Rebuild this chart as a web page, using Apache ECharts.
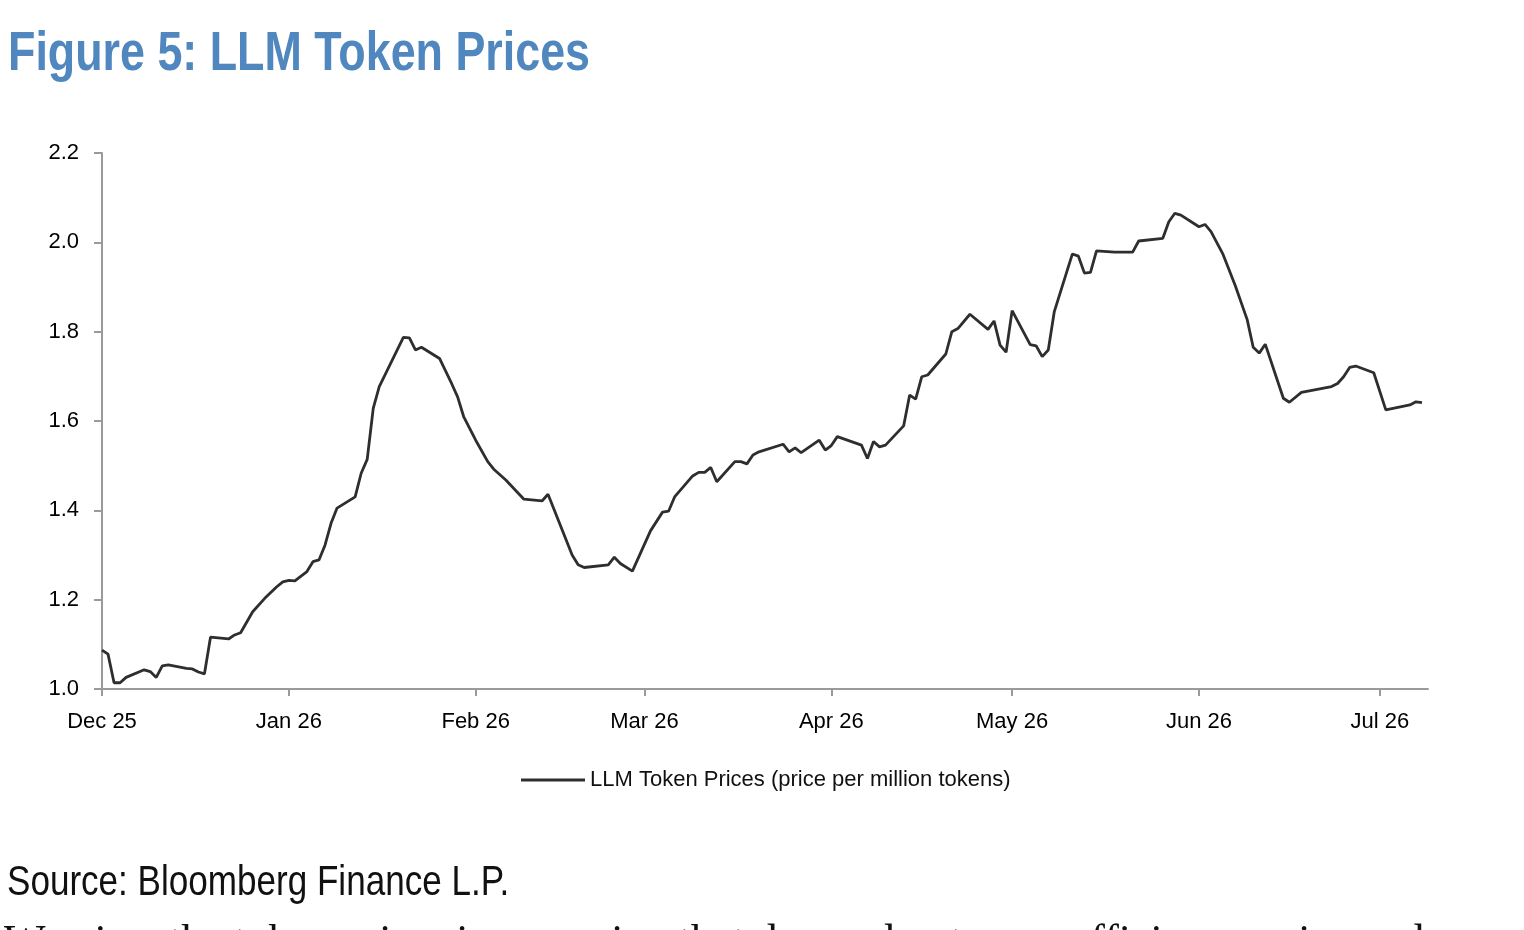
<!DOCTYPE html>
<html>
<head>
<meta charset="utf-8">
<script src="https://cdn.jsdelivr.net/npm/echarts@6/dist/echarts.min.js"></script>
<style>
  html, body { margin: 0; padding: 0; background: #fff; }
  #chart { width: 1524px; height: 930px; }
</style>
</head>
<body>
<div id="chart"></div>
<script>
var dates = [
    '2025-12-01', '2025-12-02', '2025-12-03', '2025-12-04', '2025-12-05', '2025-12-08', '2025-12-09',
    '2025-12-10', '2025-12-11', '2025-12-12', '2025-12-15', '2025-12-16', '2025-12-17', '2025-12-18',
    '2025-12-19', '2025-12-22', '2025-12-23', '2025-12-24', '2025-12-26', '2025-12-28', '2025-12-30',
    '2025-12-31', '2026-01-01', '2026-01-02', '2026-01-04', '2026-01-05', '2026-01-06', '2026-01-07',
    '2026-01-08', '2026-01-09', '2026-01-12', '2026-01-13', '2026-01-14', '2026-01-15', '2026-01-16',
    '2026-01-20', '2026-01-21', '2026-01-22', '2026-01-23', '2026-01-26', '2026-01-27', '2026-01-28',
    '2026-01-29', '2026-01-30', '2026-02-01', '2026-02-03', '2026-02-04', '2026-02-06', '2026-02-09',
    '2026-02-12', '2026-02-13', '2026-02-17', '2026-02-18', '2026-02-19', '2026-02-23', '2026-02-24',
    '2026-02-25', '2026-02-27', '2026-03-02', '2026-03-04', '2026-03-05', '2026-03-06', '2026-03-09',
    '2026-03-10', '2026-03-11', '2026-03-12', '2026-03-13', '2026-03-16', '2026-03-17', '2026-03-18',
    '2026-03-19', '2026-03-20', '2026-03-24', '2026-03-25', '2026-03-26', '2026-03-27', '2026-03-30',
    '2026-03-31', '2026-04-01', '2026-04-02', '2026-04-06', '2026-04-07', '2026-04-08', '2026-04-09',
    '2026-04-10', '2026-04-13', '2026-04-14', '2026-04-15', '2026-04-16', '2026-04-17', '2026-04-20',
    '2026-04-21', '2026-04-22', '2026-04-24', '2026-04-27', '2026-04-28', '2026-04-29', '2026-04-30',
    '2026-05-01', '2026-05-04', '2026-05-05', '2026-05-06', '2026-05-07', '2026-05-08', '2026-05-11',
    '2026-05-12', '2026-05-13', '2026-05-14', '2026-05-15', '2026-05-18', '2026-05-21', '2026-05-22',
    '2026-05-26', '2026-05-27', '2026-05-28', '2026-05-29', '2026-06-01', '2026-06-02', '2026-06-03',
    '2026-06-05', '2026-06-07', '2026-06-09', '2026-06-10', '2026-06-11', '2026-06-12', '2026-06-15',
    '2026-06-16', '2026-06-18', '2026-06-23', '2026-06-24', '2026-06-25', '2026-06-26', '2026-06-27',
    '2026-06-30', '2026-07-02', '2026-07-06', '2026-07-07', '2026-07-08'
];
var prices = [
    1.087, 1.078, 1.014, 1.014, 1.026, 1.043, 1.039,
    1.026, 1.052, 1.054, 1.046, 1.045, 1.038, 1.034,
    1.116, 1.112, 1.121, 1.126, 1.173, 1.203, 1.229,
    1.240, 1.243, 1.242, 1.263, 1.285, 1.289, 1.322,
    1.371, 1.405, 1.430, 1.483, 1.514, 1.628, 1.677,
    1.787, 1.786, 1.759, 1.765, 1.740, 1.712, 1.684,
    1.654, 1.610, 1.557, 1.509, 1.492, 1.468, 1.425,
    1.421, 1.436, 1.300, 1.278, 1.272, 1.278, 1.295,
    1.281, 1.264, 1.354, 1.396, 1.398, 1.430, 1.477,
    1.485, 1.485, 1.496, 1.464, 1.509, 1.509, 1.504,
    1.524, 1.531, 1.548, 1.531, 1.540, 1.529, 1.557,
    1.535, 1.545, 1.565, 1.546, 1.516, 1.554, 1.542,
    1.546, 1.589, 1.658, 1.649, 1.699, 1.703, 1.750,
    1.800, 1.807, 1.839, 1.805, 1.824, 1.770, 1.754,
    1.847, 1.771, 1.768, 1.744, 1.759, 1.845, 1.974,
    1.969, 1.931, 1.933, 1.981, 1.978, 1.978, 2.003,
    2.009, 2.046, 2.065, 2.061, 2.035, 2.040, 2.024,
    1.973, 1.904, 1.827, 1.765, 1.752, 1.772, 1.651,
    1.642, 1.664, 1.677, 1.684, 1.699, 1.720, 1.723,
    1.708, 1.625, 1.636, 1.643, 1.641
];
var monthNames = ['Jan', 'Feb', 'Mar', 'Apr', 'May', 'Jun', 'Jul', 'Aug', 'Sep', 'Oct', 'Nov', 'Dec'];
var seriesName = 'LLM Token Prices (price per million tokens)';

var sans = "'Liberation Sans Narrow', 'Arial Narrow', 'Liberation Sans', sans-serif";
var chart = echarts.init(document.getElementById('chart'));

var points = [];
for (var i = 0; i < dates.length; i++) {
    points.push([dates[i], prices[i]]);
}

chart.setOption({
    animation: false,
    legend: {
        left: 516,
        top: 764,
        icon: 'rect',
        itemWidth: 64,
        itemHeight: 3,
        textStyle: { color: '#111', fontSize: 22, fontFamily: sans }
    },
    grid: { left: 102, right: 96, top: 153, bottom: 241, containLabel: false },
    xAxis: {
        type: 'time',
        min: '2025-12-01',
        max: '2026-07-09',
        minInterval: 28 * 86400000,
        maxInterval: 31 * 86400000,
        axisLine: { lineStyle: { color: '#9a9a9a', width: 2 } },
        axisTick: { show: true, length: 7, lineStyle: { color: '#9a9a9a', width: 2 } },
        splitLine: { show: false },
        axisLabel: {
            color: '#000',
            fontSize: 22,
            fontFamily: sans,
            margin: 22,
            formatter: function (v) {
                var d = new Date(v);
                return monthNames[d.getMonth()] + ' ' + String(d.getFullYear()).slice(2);
            }
        }
    },
    yAxis: {
        type: 'value',
        min: 1.0,
        max: 2.2,
        interval: 0.2,
        axisLine: { show: true, lineStyle: { color: '#9a9a9a', width: 2 } },
        axisTick: { show: true, length: 8, lineStyle: { color: '#9a9a9a', width: 2 } },
        splitLine: { show: false },
        axisLabel: {
            color: '#000',
            fontSize: 22,
            fontFamily: sans,
            margin: 23,
            formatter: function (v) { return v.toFixed(1); }
        }
    },
    series: [{
        name: seriesName,
        type: 'line',
        symbol: 'none',
        data: points,
        lineStyle: { color: '#2e2e2e', width: 2.8 },
        itemStyle: { color: '#2e2e2e' }
    }],
    graphic: [
        {
            type: 'text',
            x: 8,
            y: 27,
            scaleX: 0.815,
            style: {
                text: 'Figure 5: LLM Token Prices',
                fill: '#4f87be',
                font: 'bold 55px ' + sans,
                verticalAlign: 'top'
            }
        },
        {
            type: 'text',
            x: 7,
            y: 862,
            scaleX: 0.835,
            style: {
                text: 'Source: Bloomberg Finance L.P.',
                fill: '#111',
                font: '42px ' + sans,
                verticalAlign: 'top'
            }
        },
        {
            type: 'text',
            x: 4,
            y: 921,
            style: {
                text: 'We view the token price rise as a sign that demand outpaces efficiency gains and',
                fill: '#111',
                font: '44px "Liberation Serif", serif',
                verticalAlign: 'top'
            }
        }
    ]
});
</script>
</body>
</html>
